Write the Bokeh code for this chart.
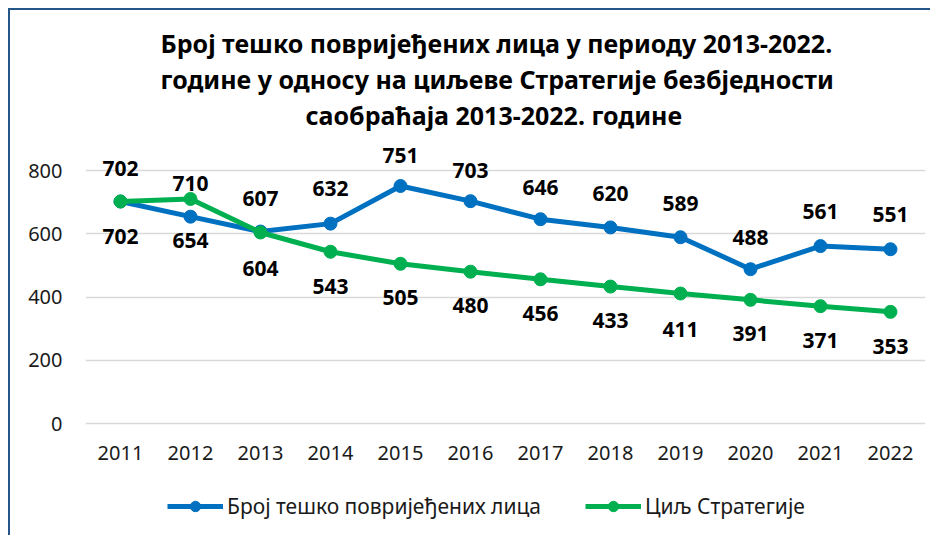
from bokeh.plotting import figure
from bokeh.models import Range1d, FixedTicker, Title, Legend, LegendItem, ColumnDataSource
from bokeh.embed import file_html
from bokeh.resources import INLINE
from bokeh.core.properties import value

# ---- data ----
years = [2011, 2012, 2013, 2014, 2015, 2016, 2017, 2018, 2019, 2020, 2021, 2022]
injured = [702, 654, 607, 632, 751, 703, 646, 620, 589, 488, 561, 551]
target = [702, 710, 604, 543, 505, 480, 456, 433, 411, 391, 371, 353]
series_names = ["Број тешко повријеђених лица", "Циљ Стратегије"]
y_ticks = [0, 200, 400, 600, 800]
title_lines = [
    "Број тешко повријеђених лица у периоду 2013-2022.",
    "године у односу на циљеве Стратегије безбједности",
    "саобраћаја 2013-2022. године",
]

# ---- label placement (style, screen px; negative = above point) ----
injured_label_dy = [35, 24, -33, -35, -30, -31, -32, -34, -34, -32, -35, -35]
target_label_dy = [-33, -15, 36, 35, 34, 34, 34, 34, 36, 34, 34, 35]
title_offsets = [75, 75, 220]
legend_x = [82, 500]

BLUE = "#0070C0"
GREEN = "#00B050"
FONT = "Noto Sans"

# layout constants (canvas px); frame runs down to the canvas bottom,
# the x axis is pinned at y=0 inside it
W, H = 922, 527
FL, FR, FT = 75, 7, 121
frame_h = H - FT
px_per_unit = 63.25 / 200.0
zero_from_bottom = 114          # px between y=0 and frame bottom
y_start = -zero_from_bottom / px_per_unit
y_end = y_start + frame_h / px_per_unit

p = figure(width=W, height=H, output_backend="svg", toolbar_location=None,
           x_range=Range1d(years[0] - 0.5, years[-1] + 0.5),
           y_range=Range1d(y_start, y_end),
           min_border_left=FL, min_border_right=FR,
           min_border_top=FT, min_border_bottom=0)
p.styles = {"border-left": "2px solid #24568A", "border-top": "2px solid #24568A",
            "margin-left": "8px", "margin-top": "8px"}
p.outline_line_color = None
p.background_fill_color = "white"
p.border_fill_color = "white"

# grid
p.xgrid.visible = False
p.ygrid.ticker = FixedTicker(ticks=y_ticks)
p.ygrid.grid_line_color = "#D9D9D9"
p.ygrid.grid_line_width = 1.5

# axes
p.yaxis.ticker = FixedTicker(ticks=y_ticks)
p.xaxis.ticker = FixedTicker(ticks=years)
p.xaxis.major_label_overrides = {y: str(y) for y in years}
p.xaxis.fixed_location = 0
for ax in (p.xaxis[0], p.yaxis[0]):
    ax.axis_line_color = None
    ax.major_tick_line_color = None
    ax.minor_tick_line_color = None
    ax.major_label_text_font = FONT
    ax.major_label_text_font_size = "20px"
    ax.major_label_text_color = "#1a1a1a"
p.yaxis.major_label_standoff = 17
p.xaxis.major_label_standoff = 16

# series
src_i = ColumnDataSource(dict(x=years, y=injured, lab=[str(v) for v in injured], dy=injured_label_dy))
src_t = ColumnDataSource(dict(x=years, y=target, lab=[str(v) for v in target], dy=target_label_dy))

l1 = p.line("x", "y", source=src_i, line_color=BLUE, line_width=5)
m1 = p.scatter("x", "y", source=src_i, size=13, fill_color=BLUE, line_color=BLUE)
l2 = p.line("x", "y", source=src_t, line_color=GREEN, line_width=5)
m2 = p.scatter("x", "y", source=src_t, size=13, fill_color=GREEN, line_color=GREEN)

for src in (src_i, src_t):
    p.text("x", "y", text="lab", source=src, y_offset="dy",
           text_font=value(FONT), text_font_style="bold", text_font_size="21px",
           text_color="black", text_align="center", text_baseline="middle")

# title: three stacked lines (last added sits highest)
for line, off in reversed(list(zip(title_lines, title_offsets))):
    p.add_layout(Title(text=line, align="left", offset=off, standoff=0,
                       text_font=FONT, text_font_style="bold", text_font_size="25px",
                       text_color="black"), "above")

# legends (inside the frame, below the x axis labels)
for name, rends, lx in ((series_names[0], [l1, m1], legend_x[0]),
                        (series_names[1], [l2, m2], legend_x[1])):
    lg = Legend(items=[LegendItem(label=name, renderers=rends)], location=(lx, 17),
                orientation="horizontal", padding=0, margin=0, spacing=0,
                glyph_width=56, glyph_height=26, label_standoff=4,
                label_text_font=FONT, label_text_font_size="21px", label_text_color="#1a1a1a",
                border_line_color=None, background_fill_alpha=0)
    p.add_layout(lg, "center")

open("out.html", "w").write(file_html(p, INLINE))
